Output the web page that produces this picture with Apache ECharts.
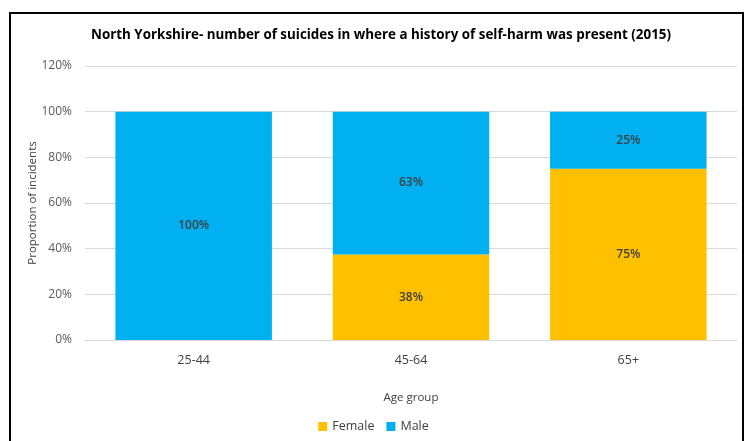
<!DOCTYPE html>
<html>
<head>
<meta charset="utf-8">
<script src="https://cdn.jsdelivr.net/npm/echarts@6/dist/echarts.min.js"></script>
<style>
  html, body { margin: 0; padding: 0; background: #fff; }
  #chart { width: 747px; height: 441px; }
</style>
</head>
<body>
<div id="chart"></div>
<script>
// Age groups and the share of suicides by sex within each group
var ageGroups = ['25-44', '45-64', '65+'];
var female = [0, 37.5, 75];
var male = [100, 62.5, 25];
var yTicks = [0, 20, 40, 60, 80, 100, 120];

var FONT = '"Open Sans", sans-serif';

var chart = echarts.init(document.getElementById('chart'), null, { renderer: 'canvas' });

function pctLabel(p) {
  if (!p.value) return '';
  return Math.round(p.value) + '%';
}

chart.setOption({
  animation: false,
  backgroundColor: '#ffffff',
  title: {
    text: 'North Yorkshire- number of suicides in where a history of self-harm was present (2015)',
    left: 86,
    top: 24,
    textStyle: { fontFamily: FONT, fontSize: 13.4, fontWeight: 'bold', color: '#000' }
  },
  graphic: [{
    type: 'polyline',
    shape: { points: [[10, 460], [10, 13], [743, 13], [743, 460]] },
    style: { stroke: '#000', lineWidth: 2, fill: null },
    silent: true
  }],
  legend: {
    bottom: 3,
    left: 'center',
    itemWidth: 9,
    itemHeight: 9,
    itemGap: 12,
    icon: 'rect',
    textStyle: { fontFamily: FONT, fontSize: 12.5, color: '#404040' },
    data: ['Female', 'Male']
  },
  grid: { left: 85, right: 10, top: 66, bottom: 101, containLabel: false },
  xAxis: {
    type: 'category',
    data: ageGroups,
    name: 'Age group',
    nameLocation: 'middle',
    nameGap: 52,
    nameTextStyle: { fontFamily: FONT, fontSize: 11.5, color: '#404040' },
    axisTick: { show: false },
    axisLine: { lineStyle: { color: '#d9d9d9' } },
    axisLabel: { fontFamily: FONT, fontSize: 12.5, color: '#404040', margin: 14 }
  },
  yAxis: {
    type: 'value',
    min: yTicks[0],
    max: yTicks[yTicks.length - 1],
    interval: 20,
    name: 'Proportion of incidents',
    nameLocation: 'middle',
    nameGap: 46,
    nameMoveOverlap: false,
    nameTextStyle: { fontFamily: FONT, fontSize: 11.5, color: '#404040' },
    axisLine: { show: false },
    axisTick: { show: false },
    splitLine: { lineStyle: { color: '#d9d9d9' } },
    axisLabel: { fontFamily: FONT, fontSize: 12, color: '#595959', margin: 13, formatter: '{value}%' }
  },
  series: [{
    name: 'Female',
    type: 'bar',
    stack: 'total',
    barWidth: '72%',
    data: female,
    itemStyle: { color: '#FFC000' },
    label: { show: true, position: 'inside', formatter: pctLabel,
             fontFamily: FONT, fontSize: 12, fontWeight: 600, color: '#404040' }
  }, {
    name: 'Male',
    type: 'bar',
    stack: 'total',
    barWidth: '72%',
    data: male,
    itemStyle: { color: '#00B0F0' },
    label: { show: true, position: 'inside', formatter: pctLabel,
             fontFamily: FONT, fontSize: 12, fontWeight: 600, color: '#404040' }
  }]
});
</script>
</body>
</html>
